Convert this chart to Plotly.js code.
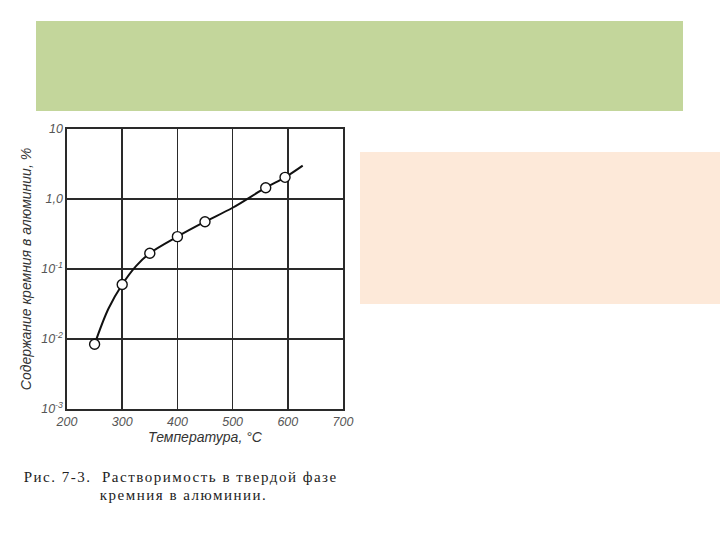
<!DOCTYPE html>
<html>
<head>
<meta charset="utf-8">
<script src="https://cdn.plot.ly/plotly-3.0.1.min.js"></script>
<style>
html,body{margin:0;padding:0;background:#fff;}
#chart{width:720px;height:540px;}
#chart .annotation-text{letter-spacing:1.5px;}
</style>
</head>
<body>
<div id="chart"></div>
<script>
// Measured points: temperature (°C) and Si solubility in Al (%)
const temps = [250, 300, 350, 400, 450, 560, 595];
const solubility = [0.0084, 0.060, 0.168, 0.29, 0.474, 1.45, 2.04];
// Smooth drawn curve (through points, extended to ~627 °C)
const curveT = [250, 275, 300, 325, 350, 400, 450, 500, 560, 595, 627];
const curveS = [0.0084, 0.027, 0.060, 0.11, 0.168, 0.29, 0.474, 0.75, 1.45, 2.04, 3.0];
// Axis ticks
const xTicks = [200, 300, 400, 500, 600, 700];
const yTickVals = [0.001, 0.01, 0.1, 1, 10];
const yTickText = ["10<sup>-3</sup>", "10<sup>-2</sup>", "10<sup>-1</sup>", "1,0", "10"];
// Caption lines
const captionLines = ["Рис. 7-3.  Растворимость в твердой фазе", "кремния в алюминии."];

const tickFont = {family: "Liberation Sans, Arial, sans-serif", size: 12.5, color: "#555", style: "italic"};
const titleFont = {family: "Liberation Sans, Arial, sans-serif", size: 14, color: "#333", style: "italic"};
const capFont = {family: "Liberation Serif, DejaVu Serif, serif", size: 15, color: "#222"};

const traces = [
  {x: curveT, y: curveS, type: "scatter", mode: "lines",
   line: {color: "#111", width: 2, shape: "spline", smoothing: 1}, hoverinfo: "skip", showlegend: false},
  {x: temps, y: solubility, type: "scatter", mode: "markers",
   marker: {symbol: "circle", size: 10, color: "#fff", line: {color: "#111", width: 1.4}}, showlegend: false}
];

const layout = {
  width: 720, height: 540,
  margin: {l: 67, r: 377, t: 129, b: 131},
  paper_bgcolor: "#fff", plot_bgcolor: "#fff",
  showlegend: false,
  xaxis: {
    range: [200, 700], tickvals: xTicks, ticktext: xTicks.map(String),
    showgrid: true, gridcolor: "#2a2a2a", gridwidth: 1.6,
    zeroline: false, showline: true, linecolor: "#2a2a2a", linewidth: 1.6, mirror: true,
    ticks: "", tickfont: tickFont,
    title: {text: "Температура, °С", font: titleFont, standoff: 4}
  },
  yaxis: {
    type: "log", range: [-3, 1], tickvals: yTickVals, ticktext: yTickText,
    showgrid: true, gridcolor: "#2a2a2a", gridwidth: 1.6,
    zeroline: false, showline: true, linecolor: "#2a2a2a", linewidth: 1.6, mirror: true,
    ticks: "", tickfont: tickFont,
    title: {text: "Содержание кремния в алюминии, %", font: titleFont, standoff: 6}
  },
  shapes: [
    {type: "rect", xref: "paper", yref: "paper", x0: -0.1123, x1: 2.2319, y0: 1.0643, y1: 1.3857,
     fillcolor: "#c3d69b", line: {width: 0}, layer: "below"},
    {type: "rect", xref: "paper", yref: "paper", x0: 1.0616, x1: 2.3659, y0: 0.375, y1: 0.9179,
     fillcolor: "#fde9d9", line: {width: 0}, layer: "below"}
  ],
  annotations: [
    {xref: "paper", yref: "paper", x: 0.413, y: -0.2411, xanchor: "center", yanchor: "middle", showarrow: false,
     text: captionLines[0], font: capFont},
    {xref: "paper", yref: "paper", x: 0.422, y: -0.3054, xanchor: "center", yanchor: "middle", showarrow: false,
     text: captionLines[1], font: capFont}
  ]
};

Plotly.newPlot("chart", traces, layout, {displayModeBar: false, staticPlot: true});
</script>
</body>
</html>
